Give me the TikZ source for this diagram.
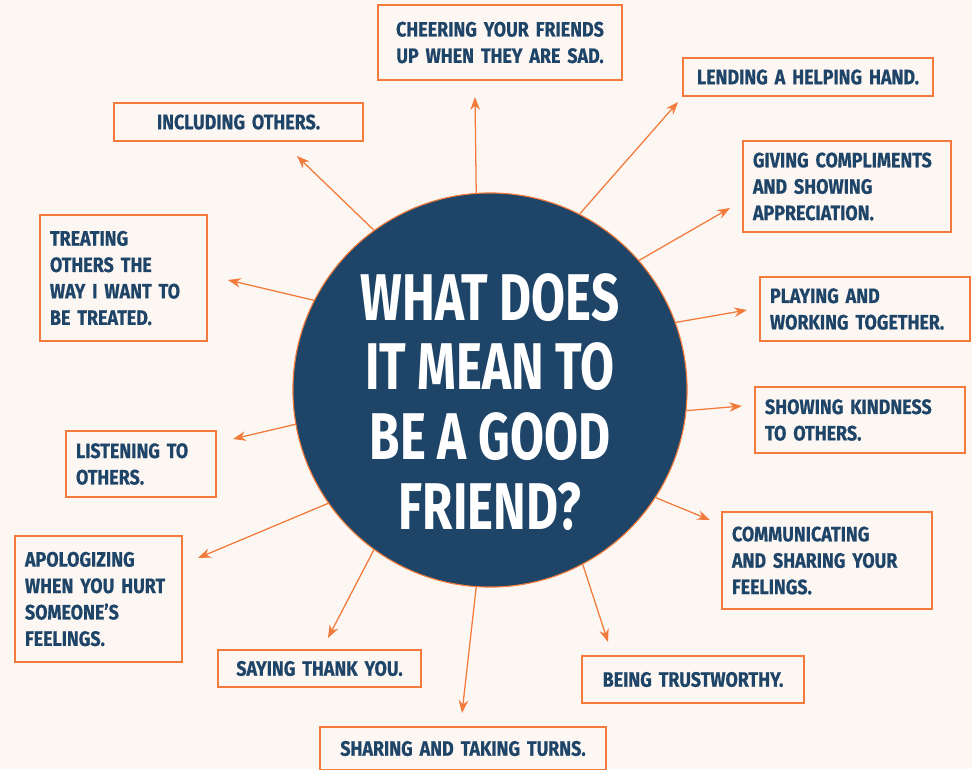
\documentclass[tikz,border=0pt]{standalone}
\usepackage{fontspec}
\usepackage{tikz}
\usetikzlibrary{arrows.meta, positioning}
\newfontfamily\condfont{Fira Sans}[FakeStretch=0.745]
\newfontfamily\boxfont{Fira Sans}[FakeStretch=0.86, FakeBold=0.6]
\definecolor{cream}{HTML}{FDF7F3}
\definecolor{tangerine}{HTML}{F27A3A}
\definecolor{navy}{HTML}{1E4468}
\tikzstyle{arr} = [draw=tangerine, line width=0.9pt, -{Stealth[length=3.2mm,width=2.4mm]}]
\tikzstyle{goodbox} = [rectangle, draw=tangerine, line width=0.9pt, fill=cream, text=navy,
  inner xsep=0.25cm, inner ysep=0pt, align=left,
  font=\boxfont\bfseries\fontsize{14.8}{18.8}\selectfont]
\tikzstyle{bigcircle} = [circle, draw=tangerine, line width=0.8pt, fill=navy,
  minimum size=9.85cm, inner sep=0pt]
\tikzstyle{bigtext} = [text=white, align=center, inner sep=0pt,
  font=\condfont\bfseries\fontsize{47}{49.7}\selectfont]

\begin{document}
\begin{tikzpicture}[x=0.025cm, y=-0.025cm]

    \fill [cream] (0,0) rectangle (972,769);
    \useasboundingbox (0,0) rectangle (972,769);

    \node [bigcircle] at (490,390) (friend) {};
    \node [bigtext] at (490,402) (question) {WHAT DOES\\IT MEAN TO\\BE A GOOD\\FRIEND?};

    % boxes, clockwise from the top
    \node [goodbox, text width=5.6cm, align=center, minimum height=1.875cm] at (500,42.5) (cheer) {CHEERING YOUR FRIENDS\\UP WHEN THEY ARE SAD.};
    \node [goodbox, text width=5.75cm, align=center, minimum height=0.95cm] at (808,77) (lend) {LENDING A HELPING HAND.};
    \node [goodbox, text width=4.7cm, minimum height=2.275cm] at (847,186.5) (give) {GIVING COMPLIMENTS\\AND SHOWING\\APPRECIATION.};
    \node [goodbox, text width=4.75cm, minimum height=1.6cm] at (865,309) (play) {PLAYING AND\\WORKING TOGETHER.};
    \node [goodbox, text width=4.75cm, minimum height=1.65cm] at (860,420) (kind) {SHOWING KINDNESS\\TO OTHERS.};
    \node [goodbox, text width=4.75cm, minimum height=2.425cm] at (827,560.5) (talk) {COMMUNICATING\\AND SHARING YOUR\\FEELINGS.};
    \node [goodbox, text width=5.05cm, align=center, minimum height=1.175cm] at (693,679.5) (trust) {BEING TRUSTWORTHY.};
    \node [goodbox, text width=6.65cm, align=center, minimum height=1.075cm] at (463,748.5) (share) {SHARING AND TAKING TURNS.};
    \node [goodbox, text width=4.575cm, align=center, minimum height=0.925cm] at (319.5,668.5) (thank) {SAYING THANK YOU.};
    \node [goodbox, text width=3.675cm, minimum height=3.15cm] at (98.5,599) (sorry) {APOLOGIZING\\WHEN YOU HURT\\SOMEONE’S\\FEELINGS.};
    \node [goodbox, text width=3.25cm, minimum height=1.65cm] at (141,464) (listen) {LISTENING TO\\OTHERS.};
    \node [goodbox, text width=3.675cm, minimum height=3.15cm] at (123.5,278) (treat) {TREATING\\OTHERS THE\\WAY I WANT TO\\BE TREATED.};
    \node [goodbox, text width=5.725cm, align=center, minimum height=0.95cm] at (238.5,122) (include) {INCLUDING OTHERS.};

    % arrow tips
    \coordinate (cheertip) at (475,97);
    \coordinate (lendtip) at (678,102);
    \coordinate (givetip) at (730,208);
    \coordinate (playtip) at (747,310);
    \coordinate (kindtip) at (742,406);
    \coordinate (talktip) at (710,520);
    \coordinate (trusttip) at (608,642);
    \coordinate (sharetip) at (462,713);
    \coordinate (thanktip) at (328,638);
    \coordinate (sorrytip) at (198,558);
    \coordinate (listentip) at (233,439);
    \coordinate (treattip) at (228,280);
    \coordinate (includetip) at (297,156);

    \draw [arr] (friend.94) -- (cheertip);
    \draw [arr] (friend.63) -- (lendtip);
    \draw [arr] (friend.41) -- (givetip);
    \draw [arr] (friend.20) -- (playtip);
    \draw [arr] (friend.-6) -- (kindtip);
    \draw [arr] (friend.-33) -- (talktip);
    \draw [arr] (friend.-62) -- (trusttip);
    \draw [arr] (friend.266) -- (sharetip);
    \draw [arr] (friend.234) -- (thanktip);
    \draw [arr] (friend.215) -- (sorrytip);
    \draw [arr] (friend.190) -- (listentip);
    \draw [arr] (friend.153) -- (treattip);
    \draw [arr] (friend.126) -- (includetip);

\end{tikzpicture}
\end{document}
